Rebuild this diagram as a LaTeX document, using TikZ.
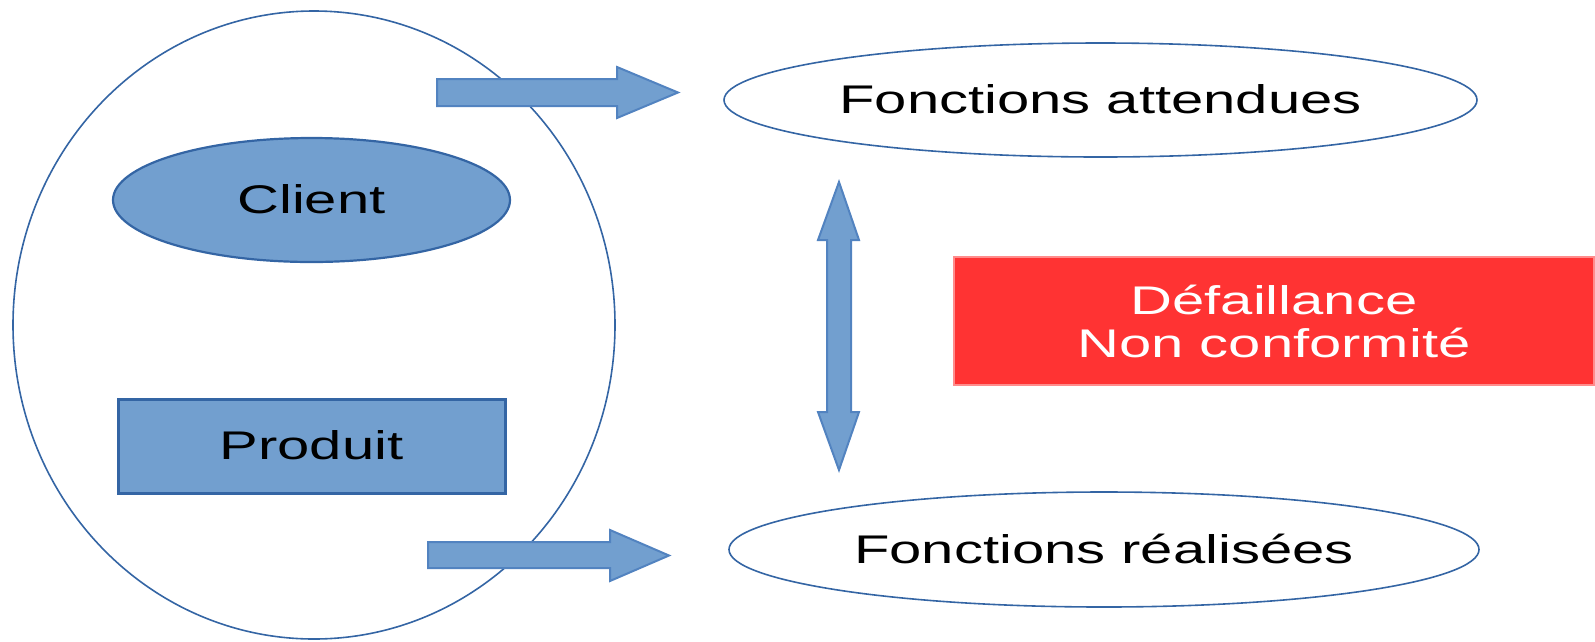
\documentclass[tikz,border=0pt]{standalone}
\usepackage{fontspec}
\setmainfont{Liberation Sans}[FakeStretch=1.45]
\usetikzlibrary{shapes.geometric}
\definecolor{bfill}{HTML}{729FCF}
\definecolor{bline}{HTML}{3465A4}
\definecolor{aline}{HTML}{5283C0}
\definecolor{rfill}{HTML}{FF3333}
\definecolor{rline}{HTML}{FF8C8C}
\begin{document}
\begin{tikzpicture}[x=1pt,y=-1pt,
  txt/.style={font=\fontsize{40}{43}\selectfont, text height=27pt, text depth=0pt, inner sep=0pt},
  blueshape/.style={txt, draw=bline, fill=bfill, line width=2.2pt},
  outline/.style={txt, draw=bline, line width=1.6pt, ellipse},
  barrow/.style={draw=aline, fill=bfill, line width=2pt, line join=miter},
  redbox/.style={draw=rline, fill=rfill, line width=2pt, text=white, align=center,
    font=\fontsize{40}{43}\selectfont, inner sep=0pt}]
\useasboundingbox (0,0) rectangle (1595,641);
% large scope ellipse
\node[draw=bline, line width=1.6pt, ellipse, inner sep=0pt,
      minimum width=602, minimum height=628] (scope) at (314,325) {};
% inner elements
\node[blueshape, ellipse, minimum width=397, minimum height=124] (client) at (311.5,200) {Client};
\node[blueshape, rectangle, line width=3pt, minimum width=387, minimum height=94] (produit) at (311.5,446) {Produit};
% function ellipses
\node[outline, minimum width=753, minimum height=114] (attendues) at (1100.5,100) {Fonctions attendues};
\node[outline, minimum width=750, minimum height=115] (realisees) at (1104,549.5) {Fonctions réalisées};
% failure box
\node[redbox, minimum width=640, minimum height=128] (defaut) at (1274,321) {Défaillance\\Non conformité};
% block arrows
\draw[barrow] (437,79) -- (617,79) -- (617,67) -- (678,92.5) -- (617,118) -- (617,106) -- (437,106) -- cycle;
\draw[barrow] (428,542) -- (610,542) -- (610,530) -- (669,555.5) -- (610,581) -- (610,568) -- (428,568) -- cycle;
\draw[barrow] (839,182) -- (859,240) -- (851,240) -- (851,412) -- (859,412) -- (839,470)
  -- (818,412) -- (827,412) -- (827,240) -- (818,240) -- cycle;
\end{tikzpicture}
\end{document}
